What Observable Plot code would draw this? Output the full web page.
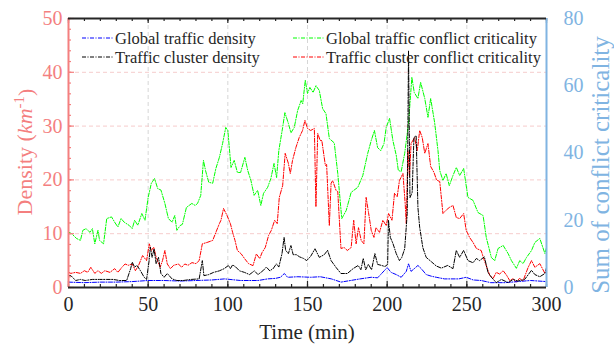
<!DOCTYPE html>
<html>
<head>
<meta charset="utf-8">
<script src="https://cdn.jsdelivr.net/npm/d3@7"></script>
<script src="https://cdn.jsdelivr.net/npm/@observablehq/plot@0.6"></script>
<style>
  html, body { margin: 0; padding: 0; background: #ffffff; }
  #chart svg { display: block; }
</style>
</head>
<body>
<div id="chart"></div>
<script>
// ---------- tick labels ----------
const xTicks = [0, 50, 100, 150, 200, 250, 300];
const leftTicks = [0, 10, 20, 30, 40, 50];
const rightTicks = [0, 20, 40, 60, 80];
const xGridLines = [50, 100, 150, 200, 250];
const yGridLines = [10, 20, 30, 40];

// ---------- series: Global traffic density (left axis, km^-1) ----------
const globalDensityT = [0, 10, 20, 30, 40, 50, 60, 70, 80, 90, 98, 108, 119, 125, 130, 133, 135.5, 137.5, 144, 152, 158, 165, 171, 177, 183, 190, 194, 200, 202.5, 205.7, 208.8, 212, 213.4, 215, 217, 219.3, 221.4, 224.5, 227.7, 230.8, 236, 245, 249.6, 254, 259, 265, 274, 282, 290, 300];
const globalDensityV = [1.0, 0.9, 1.0, 1.0, 1.1, 1.3, 1.3, 1.2, 1.3, 1.4, 1.6, 1.3, 1.3, 1.6, 1.7, 1.9, 2.6, 1.9, 2.0, 1.9, 2.0, 1.6, 1.0, 1.3, 1.6, 1.9, 1.8, 3.7, 2.8, 2.4, 1.9, 3.0, 4.4, 3.0, 3.5, 4.1, 3.5, 2.4, 2.1, 1.9, 1.6, 1.6, 1.9, 1.4, 1.3, 0.9, 0.9, 1.1, 1.3, 1.1];

// ---------- series: Traffic cluster density (left axis, km^-1) ----------
const clusterDensityT = [0, 1.5, 4.5, 7.5, 10.5, 15, 19.5, 24, 28, 32, 36.5, 39, 40, 41.5, 43, 45, 47.5, 49, 50.6, 51.3, 52.5, 53.7, 55, 56.5, 58, 60, 62, 65, 68, 72, 77, 82, 84, 85, 88, 91, 94.7, 97.7, 100.4, 101.6, 103, 105, 107.3, 110.5, 113.6, 116.7, 118.9, 122, 124.2, 126.3, 128.4, 130.5, 132, 134, 135.3, 136.3, 138, 139.6, 141, 143, 145, 147.5, 149.5, 152, 154.7, 157.4, 160.5, 162.6, 164.8, 168, 171, 175, 178.6, 181.8, 183.5, 185, 186.5, 188.2, 190.2, 192.3, 194, 196.5, 198.6, 200.3, 200.8, 202, 203.6, 205.7, 207.7, 209.2, 211, 212.6, 213.4, 214.3, 215.7, 216.8, 218.2, 219.3, 220.4, 222.4, 224.5, 227.7, 230.8, 234, 238, 241.3, 243.4, 245.5, 248, 250.7, 253.9, 256, 258, 261, 263.3, 265.4, 268.5, 271.7, 276, 279, 282, 286.3, 290.6, 292.7, 295.8, 299, 300];
const clusterDensityV = [2.2, 2.2, 1.3, 1.5, 1.3, 1.5, 1.5, 1.5, 1.5, 1.3, 1.3, 3.5, 4.7, 3.8, 4.1, 3.2, 1.9, 1.5, 5.0, 7.5, 5.6, 7.2, 4.4, 5.6, 2.6, 1.9, 2.6, 1.6, 1.3, 1.3, 1.5, 1.6, 5.0, 2.2, 2.4, 2.8, 3.1, 3.5, 4.1, 3.5, 4.2, 3.8, 3.1, 2.8, 2.4, 3.1, 2.4, 3.1, 3.8, 3.1, 3.5, 4.4, 3.8, 6.3, 9.3, 6.9, 6.3, 7.8, 6.1, 6.1, 5.7, 5.4, 5.0, 5.8, 7.2, 5.6, 6.1, 6.9, 5.0, 3.7, 2.6, 2.6, 3.5, 4.1, 3.3, 5.4, 3.3, 4.3, 3.3, 6.3, 4.3, 4.1, 3.9, 4.3, 12.5, 9.3, 8.2, 6.3, 5.0, 5.6, 7.2, 13.8, 44.0, 16.7, 17.7, 27.9, 28.2, 14.9, 11.2, 7.4, 5.6, 4.8, 4.0, 3.6, 4.1, 3.5, 6.9, 5.6, 6.9, 5.0, 4.6, 5.4, 5.0, 5.7, 2.8, 1.9, 0.9, 1.5, 0.9, 1.5, 1.2, 1.5, 3.2, 2.4, 2.0, 2.6, 3.7];

// ---------- series: Global traffic conflict criticality (right axis) ----------
const globalConflictT = [0, 2, 5, 7.5, 9, 11, 13.5, 15, 16.5, 18.5, 19.5, 22, 24, 27, 29, 31, 33, 35, 38, 40, 41.5, 43.5, 46, 48, 50, 52, 54, 56, 58, 60.5, 62.7, 65, 66.7, 68, 70, 71.5, 74, 77.4, 79.5, 81, 83, 84.7, 86, 88, 90.5, 92.5, 94.7, 96.7, 98.7, 100, 102, 104, 106, 108, 110.7, 112.5, 114.5, 116.5, 118.7, 120.7, 122.4, 125, 127, 129, 130.6, 132, 134.4, 135.8, 138, 139.6, 141.7, 143.8, 146, 147, 148.6, 150, 151.5, 153.5, 155.3, 157.4, 159.5, 161.6, 163.7, 166.8, 169, 171.5, 174.3, 177.4, 181.6, 184.7, 187.8, 190, 192, 194, 196, 198, 199.4, 201.5, 203.6, 205.7, 207, 208.8, 211, 213.4, 215.5, 217, 219.3, 221, 223.6, 225.6, 227.3, 229.8, 231.9, 233, 235, 237, 239, 241.3, 243.4, 245.5, 248, 250.7, 253.9, 257, 260.2, 262.2, 265.4, 267.5, 269.6, 272.8, 275.9, 278, 281.1, 283.2, 285.3, 287.4, 290.6, 292.7, 295.8, 299, 300];
const globalConflictV = [16.5, 16, 14.6, 14, 17, 17.5, 16.4, 17.5, 13, 17, 14, 13, 20.5, 21, 19.4, 18, 20.5, 19.4, 18.5, 17.5, 20, 18.5, 22, 20, 26.8, 31, 32.4, 29.4, 29, 25, 20.5, 19.4, 21.4, 17, 18.4, 18.8, 23.8, 25, 24.4, 25, 27.4, 37.8, 34.8, 31.3, 31, 35.4, 38.7, 42.8, 47.6, 46.7, 35.7, 37.8, 34.2, 34.2, 38.7, 34.8, 31.8, 27.4, 28.9, 24.4, 28, 29.8, 32.4, 36.9, 32.7, 40.7, 47.6, 52, 48.8, 46, 47.6, 52.6, 55.6, 54.6, 61.6, 57.7, 59.5, 58, 60, 58.6, 53.2, 51.7, 44.3, 43, 33.9, 20.5, 22.9, 28.3, 29.8, 33.3, 39.9, 43.7, 46.7, 41.6, 40.7, 42.8, 47.6, 50.3, 43.7, 39.3, 34.8, 34.5, 39.9, 48.8, 62.5, 58, 56.2, 61, 56.2, 50.6, 56.2, 49, 40.7, 34.8, 31.8, 33.9, 30.3, 33.3, 35.7, 33.3, 35.4, 26.8, 25.9, 22.3, 21.4, 14.9, 8.9, 8, 11.6, 12.5, 10.1, 8, 5.7, 8, 7.1, 8.9, 11, 13.4, 14.6, 10.1, 11.9];

// ---------- series: Traffic cluster conflict criticality (right axis) ----------
const clusterConflictT = [0, 1.5, 4.5, 7.5, 10, 12, 14, 16.5, 18.5, 20.6, 22.8, 26, 29, 31, 33.5, 35.5, 37.5, 40, 42, 44, 46.5, 49, 50.7, 52, 53.5, 55, 57.5, 59, 60.5, 62, 64, 66, 69, 71, 73, 75, 77.5, 80, 82, 84, 87, 90.5, 92.5, 94.7, 95.7, 97.3, 99.5, 101.6, 103, 104.5, 106, 108.4, 110.5, 113, 115.8, 117.9, 120, 121.5, 123.5, 125.6, 127.3, 129.4, 131, 132.3, 134.4, 136, 138, 139.2, 140.6, 142.7, 144.8, 146.9, 148.4, 150, 152, 154.3, 155.3, 156.4, 158, 159, 161.2, 162, 163.7, 164.8, 165.8, 167.9, 169, 171, 173, 175, 177.4, 179, 180.5, 182, 183.7, 185.4, 186.8, 188.3, 190, 191.7, 193, 195.2, 197.3, 199.4, 200.9, 203, 204.6, 206.3, 207.7, 209.9, 211.3, 212, 213, 214, 215, 217.2, 218.9, 220.4, 222, 223.6, 225.6, 227.3, 229.4, 231, 233, 235, 237, 239, 241.3, 243.4, 245.5, 248, 249.6, 251.7, 253.9, 256, 259, 261, 264.4, 266.5, 268.5, 270.6, 272.8, 275, 277, 279, 281, 283, 285.3, 288.5, 290.6, 292.7, 295.8, 299, 300];
const clusterConflictV = [4.5, 4.2, 4.5, 4.2, 5, 4.5, 6, 4.2, 5, 4.2, 5, 4.5, 5.6, 4.5, 6, 7, 6.6, 7, 5, 6.6, 9.5, 8, 13, 11, 12, 9, 6, 8, 11, 7, 5.6, 6.6, 7, 6, 7, 6.6, 7.4, 7.1, 8, 13, 13.4, 14, 16.4, 19, 20, 23.5, 21.4, 19, 16.4, 14, 11, 10, 8.6, 7.1, 6.5, 10, 8.6, 10.4, 11.9, 15.5, 17, 20, 19, 26.8, 30.3, 39.9, 36.9, 33.9, 37.8, 41.6, 44.6, 46.7, 49.7, 47.3, 46.7, 47.3, 24, 45.8, 43.7, 43.7, 36.3, 36.6, 18.4, 31, 31.8, 28.9, 28.5, 11.6, 11.9, 11, 11.9, 20, 13, 17.8, 14, 13, 26.8, 22.3, 17, 14.9, 17.8, 16.4, 20, 18.4, 22, 20, 28, 27, 31.8, 33.9, 25, 19, 40.7, 33, 42.8, 44.6, 40.7, 46.7, 44.6, 39.9, 42.8, 36, 34.2, 32, 31.5, 22, 23, 23.8, 24.4, 20.8, 20.5, 22, 17, 14.9, 13.4, 11.6, 11, 8, 3.6, 2.7, 4.5, 4, 5, 3.6, 2, 2.7, 1.5, 2.7, 2, 6, 8, 6, 7.1, 4.2, 5];

// ---------- build tables ----------
const toRows = (T, V) => T.map((t, i) => ({t, v: V[i]}));
const globalDensity = toRows(globalDensityT, globalDensityV);
const clusterDensity = toRows(clusterDensityT, clusterDensityV);
const globalConflict = toRows(globalConflictT, globalConflictV);
const clusterConflict = toRows(clusterConflictT, clusterConflictV);

const kR = 50 / 80; // right axis (0-80) mapped onto left axis (0-50)
const FONT = "'Liberation Serif', 'Times New Roman', serif";
const LEFT_C = "#f47f7f";
const RIGHT_C = "#80b4e2";
const AX_C = "#262626";
const DASH = "4,1.5,1,1.5";

const xMinor = d3.range(0, 301, 10);
const yMinor = d3.range(0, 51, 2);

const chart = Plot.plot({
  width: 614,
  height: 344,
  marginLeft: 68,
  marginRight: 68,
  marginTop: 18,
  marginBottom: 57,
  style: {fontFamily: FONT, background: "#ffffff", overflow: "visible"},
  x: {domain: [0, 300]},
  y: {domain: [0, 50]},
  marks: [
    Plot.ruleX(xGridLines, {stroke: "#d6d6d6", strokeDasharray: "4,3", strokeWidth: 1}),
    Plot.ruleY(yGridLines, {stroke: "#f6cccc", strokeDasharray: "4,3", strokeWidth: 1}),
    Plot.line(globalConflict, {x: "t", y: d => d.v * kR, stroke: "#00ff00", strokeWidth: 1, strokeDasharray: DASH}),
    Plot.line(clusterConflict, {x: "t", y: d => d.v * kR, stroke: "#ff0000", strokeWidth: 1, strokeDasharray: DASH}),
    Plot.line(globalDensity, {x: "t", y: "v", stroke: "#0000ff", strokeWidth: 1, strokeDasharray: DASH}),
    Plot.line(clusterDensity, {x: "t", y: "v", stroke: "#000000", strokeWidth: 1, strokeDasharray: DASH}),
    // axes labels
    Plot.axisX(xTicks, {anchor: "bottom", tickSize: 0, tickPadding: 9, fontSize: 20, fill: AX_C, label: null}),
    Plot.axisY(leftTicks, {anchor: "left", tickSize: 0, tickPadding: 6, fontSize: 20, fill: LEFT_C, label: null}),
    Plot.axisY(rightTicks.map(v => v * kR), {anchor: "right", tickSize: 0, tickPadding: 17, fontSize: 20, fill: RIGHT_C, label: null, tickFormat: v => String(Math.round(v / kR))}),
    // inward ticks
    Plot.ruleX(xMinor, {x: d => d, y1: () => 0, y2: () => 0, insetTop: -3, stroke: AX_C, strokeWidth: 1.2}),
    Plot.ruleX(xTicks, {x: d => d, y1: () => 0, y2: () => 0, insetTop: -6, stroke: AX_C, strokeWidth: 1.2}),
    Plot.ruleX(xMinor, {x: d => d, y1: () => 50, y2: () => 50, insetBottom: -3, stroke: AX_C, strokeWidth: 1.2}),
    Plot.ruleX(xTicks, {x: d => d, y1: () => 50, y2: () => 50, insetBottom: -5, stroke: AX_C, strokeWidth: 1.2}),
    Plot.ruleY(yMinor, {y: d => d, x1: () => 0, x2: () => 0, insetRight: -3, stroke: LEFT_C, strokeWidth: 1.2}),
    Plot.ruleY(leftTicks, {y: d => d, x1: () => 0, x2: () => 0, insetRight: -6, stroke: LEFT_C, strokeWidth: 1.2}),
    // frame
    Plot.ruleX([0], {stroke: LEFT_C, strokeWidth: 2}),
    Plot.ruleX([300], {stroke: RIGHT_C, strokeWidth: 2}),
    Plot.ruleY([0], {stroke: AX_C, strokeWidth: 2}),
    Plot.ruleY([50], {stroke: AX_C, strokeWidth: 2})
  ]
});
document.getElementById("chart").appendChild(chart);

// ---------- labels and legend ----------
const svg = d3.select(chart);

svg.append("text")
  .attr("x", 307).attr("y", 339)
  .attr("text-anchor", "middle")
  .attr("font-family", FONT).attr("font-size", 21).attr("fill", AX_C)
  .text("Time (min)");

const yl = svg.append("text")
  .attr("transform", "translate(32,152) rotate(-90)")
  .attr("text-anchor", "middle")
  .attr("font-family", FONT).attr("font-size", 22).attr("fill", LEFT_C);
yl.append("tspan").text("Density (");
yl.append("tspan").attr("font-style", "italic").text("km");
yl.append("tspan").attr("font-size", 15).attr("dy", "-0.55em").text("-1");
yl.append("tspan").attr("dy", "0.4em").text(")");

svg.append("text")
  .attr("transform", "translate(609,165) rotate(-90)")
  .attr("text-anchor", "middle")
  .attr("font-family", FONT).attr("font-size", 25).attr("fill", RIGHT_C)
  .text("Sum of conflict criticality");

const legendNames = ["Global traffic density", "Traffic cluster density", "Global traffic conflict criticality", "Traffic cluster conflict criticality"];
const legendColors = ["#0000ff", "#000000", "#00ff00", "#ff0000"];
const legendCols = [82, 82, 293, 293];
const legendRows = [38, 57, 38, 57];
const legend = svg.append("g").attr("text-anchor", "start");
legendNames.forEach((name, i) => {
  const x0 = legendCols[i], y0 = legendRows[i];
  legend.append("line")
    .attr("x1", x0).attr("x2", x0 + 31).attr("y1", y0).attr("y2", y0)
    .attr("stroke", legendColors[i]).attr("stroke-width", 1).attr("stroke-dasharray", DASH);
  legend.append("text")
    .attr("x", x0 + 33).attr("y", y0 + 5.5)
    .attr("text-anchor", "start")
    .attr("font-family", FONT).attr("font-size", 16.5).attr("fill", AX_C)
    .text(name);
});
</script>
</body>
</html>
